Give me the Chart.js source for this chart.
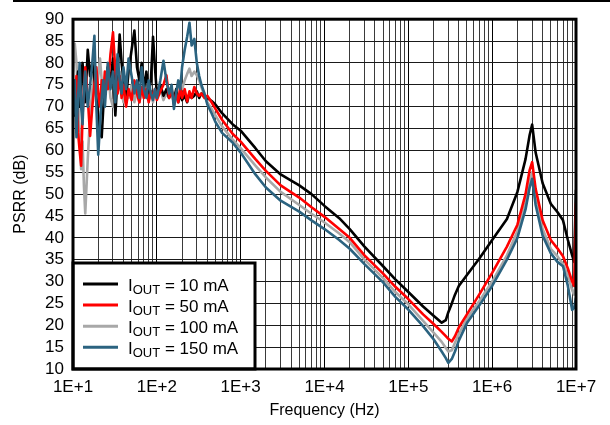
<!DOCTYPE html>
<html lang="en">
<head>
<meta charset="UTF-8">
<title>PSRR vs Frequency</title>
<script src="https://cdn.jsdelivr.net/npm/chart.js@4"></script>
<style>
  body { margin: 0; background: #fff; }
  #wrap { width: 610px; height: 425px; }
</style>
</head>
<body>
<div id="wrap"><canvas id="psrr" width="610" height="425"></canvas></div>
<script>
// frequency points (Hz), shared by all four curves
const freqHz = [
  10, 10.5, 11, 11.5, 12, 12.5, 13, 13.5, 14, 15,
  16, 17, 18, 19, 20, 21, 22, 23, 24, 26,
  28, 30, 32, 34, 36, 38, 40, 43, 46, 50,
  54, 58, 62, 66, 70, 75, 80, 85, 90, 95,
  100, 110, 120, 130, 140, 150, 160, 170, 180, 190,
  200, 215, 230, 245, 260, 280, 300, 320, 340, 370,
  400, 450, 500, 600, 800, 1e3, 1.5e3, 2e3, 3e3, 5e3,
  7e3, 1e4, 1.5e4, 2e4, 3e4, 5e4, 7e4, 1e5, 1.5e5, 2e5,
  2.5e5, 2.8e5, 3e5, 3.3e5, 3.6e5, 4e5, 5e5, 7e5, 1e6, 1.5e6,
  2e6, 2.5e6, 2.8e6, 3e6, 3.3e6, 4e6, 5e6, 6e6, 7e6, 8e6,
  9e6, 9.5e6, 1e7
];

// PSRR (dB) per load current
const psrr10mA = [
  72, 68, 74, 78, 70, 76, 80, 74, 71, 83,
  77, 80, 76, 72, 68, 64, 63, 70, 74, 79,
  76, 81, 68, 77, 86.5, 80, 76, 72, 78, 83,
  87.4, 79, 76, 80, 74, 78, 73, 76, 86, 79,
  73, 75, 72.5, 74, 72, 73.5, 71.5, 74, 71, 73,
  71.5, 72.5, 71, 73, 72, 72.5, 73.5, 72, 73, 72.5,
  72, 71.3, 70.5, 68.5, 66, 64.5, 60.5, 57.5, 54.5, 52,
  50, 47.3, 44.5, 42, 38, 33.5, 30.5, 27.6, 24.3, 22.2,
  20.6, 21.2, 23, 25, 27, 29, 31.5, 35.2, 39.5, 44.3,
  50.5, 58, 63.5, 65.9, 59.5, 52.5, 47.8, 45.9, 44, 39.5,
  36, 34.5, 51
];
const psrr50mA = [
  74, 70, 77, 64, 60, 56.5, 68, 74, 79, 72,
  63.3, 70, 75, 79, 73, 70, 76, 73, 78, 74,
  82, 87, 78, 73, 77, 72, 75, 70, 74, 71.5,
  76, 73, 71, 74.5, 72, 74, 71, 73.5, 72, 74,
  71.5, 73.5, 75, 77.2, 72, 74, 70.5, 73, 71, 74.5,
  72, 74, 71.2, 73.5, 72, 74.5, 73, 72.5, 73, 72,
  72.5, 71, 69.5, 67, 63.8, 62, 58, 55.3, 52, 49.2,
  47, 44.8, 42, 40, 36, 31.8, 28.8, 26, 22.5, 20.3,
  18.5, 17.5, 16.9, 16.3, 17.5, 19.5, 22.5, 27, 32, 38,
  43, 50, 55.5, 57.3, 51.2, 44, 39.5, 37.6, 35.8, 33,
  30, 29, 48
];
const psrr100mA = [
  78, 84.4, 80, 72, 64, 55.7, 62, 52, 45.6, 58,
  68, 74, 78, 73, 77, 81, 76, 72, 75, 79,
  72, 70, 76, 73, 78, 74, 71, 76, 72, 75,
  71, 73.5, 71, 74, 72, 75, 71.5, 73, 71, 74,
  72.5, 74, 71.5, 73, 72, 74, 72, 73.5, 75, 75.7,
  74, 76, 77.5, 78.7, 77, 78, 77.2, 76, 74.5, 72.5,
  71, 69.5, 68, 65.5, 62.5, 60.5, 56.5, 53.8, 50.5, 47.5,
  45.5, 43.5, 41, 39, 35, 30.8, 27.6, 24.8, 21, 18.3,
  16.2, 14.8, 14, 14.3, 16, 18, 21.5, 25.5, 30, 36,
  41.5, 48, 53, 55, 49, 42, 37.5, 35.8, 34, 31.5,
  28, 27, 30
];
const psrr150mA = [
  68, 76, 63, 72, 80, 70, 66, 74, 78, 70,
  75, 80, 86.2, 70, 59, 66, 72, 76, 70, 80,
  74, 78, 71, 82, 76, 73, 79, 74, 81, 77,
  73, 76, 72, 79, 74, 72, 76, 73, 71.5, 74,
  72, 76, 80.5, 76, 73, 75, 69.5, 73, 76, 74,
  79, 83, 86, 89.2, 84, 85.5, 80, 77, 75, 73,
  70.5, 68.5, 66.5, 64, 61.8, 59.5, 54.5, 51.5, 48.5, 46,
  44, 42, 39.5, 37.5, 34, 29.8, 26.5, 23.6, 19.8, 16.8,
  14, 12.5, 11.4, 12.3, 14, 16.5, 20.5, 24.5, 29, 35,
  40, 46.5, 51.5, 53.5, 47.5, 40.5, 36.5, 34.5, 33.5, 29,
  23.5, 24, 26.3
];

const loadCurrents = ['10 mA', '50 mA', '100 mA', '150 mA'];
const lineColors = ['#000000', '#ff0000', '#a8a8a8', '#2b6380'];
const decadeTicks = [1e1, 1e2, 1e3, 1e4, 1e5, 1e6, 1e7];
const decadeLabels = ['1E+1', '1E+2', '1E+3', '1E+4', '1E+5', '1E+6', '1E+7'];

// vertical grid: every 1..9 x decade
const gridValues = [];
decadeTicks.forEach((d, i) => {
  const last = i === decadeTicks.length - 1 ? 1 : 9;
  for (let m = 1; m <= last; m++) gridValues.push(m * d);
});

const series = [psrr10mA, psrr50mA, psrr100mA, psrr150mA];
const drawOrder = [2, 1, 3, 0]; // blue on top, gray underneath

Chart.defaults.font.family = "'Liberation Sans', Arial, sans-serif";
Chart.defaults.font.size = 17;
Chart.defaults.color = '#000';

const frameAndLegend = {
  id: 'frameAndLegend',
  afterDatasetsDraw(chart) {
    const { ctx, chartArea: a } = chart;
    ctx.save();
    // legend box in lower-left corner
    const bx = a.left, by = a.bottom - 106, bw = 182, bh = 106;
    ctx.fillStyle = '#fff';
    ctx.fillRect(bx, by, bw, bh);
    ctx.lineWidth = 3;
    ctx.strokeStyle = '#000';
    ctx.strokeRect(bx, by, bw, bh);
    chart.data.datasets.forEach((ds, i) => {
      const y = by + 21 + i * 21.1;
      ctx.strokeStyle = ds.borderColor;
      ctx.lineWidth = 3;
      ctx.beginPath();
      ctx.moveTo(bx + 10, y);
      ctx.lineTo(bx + 45, y);
      ctx.stroke();
      ctx.fillStyle = '#000';
      ctx.textBaseline = 'alphabetic';
      let tx = bx + 55;
      ctx.font = "17px 'Liberation Sans', Arial, sans-serif";
      ctx.fillText('I', tx, y + 6.5);
      tx += ctx.measureText('I').width;
      ctx.font = "13px 'Liberation Sans', Arial, sans-serif";
      ctx.fillText('OUT', tx, y + 10);
      tx += ctx.measureText('OUT').width;
      ctx.font = "17px 'Liberation Sans', Arial, sans-serif";
      ctx.fillText(' = ' + loadCurrents[i], tx, y + 6.5);
    });
    // plot frame
    ctx.lineWidth = 3;
    ctx.strokeStyle = '#000';
    ctx.strokeRect(a.left, a.top, a.right - a.left, a.bottom - a.top);
    // rule along the top of the figure
    ctx.fillStyle = '#000';
    ctx.fillRect(13, 0, 597, 2);
    ctx.restore();
  }
};

new Chart(document.getElementById('psrr'), {
  type: 'line',
  data: {
    datasets: series.map((vals, i) => ({
      label: 'IOUT = ' + loadCurrents[i],
      data: freqHz.map((f, k) => ({ x: f, y: vals[k] })),
      borderColor: lineColors[i],
      borderWidth: 2.6,
      pointRadius: 0,
      tension: 0,
      borderJoinStyle: 'round',
      order: drawOrder[i]
    }))
  },
  options: {
    responsive: false,
    animation: false,
    devicePixelRatio: 1,
    layout: { padding: { left: 0, top: 14, right: 34, bottom: 0 } },
    plugins: { legend: { display: false }, tooltip: { enabled: false } },
    scales: {
      x: {
        type: 'logarithmic',
        min: 10,
        max: 1e7,
        afterBuildTicks: s => { s.ticks = gridValues.map(v => ({ value: v })); },
        afterFit: s => { s.height = 56; },
        ticks: {
          autoSkip: false,
          maxRotation: 0,
          padding: 8,
          callback: v => {
            const i = decadeTicks.indexOf(v);
            return i >= 0 ? decadeLabels[i] : '';
          }
        },
        grid: {
          drawTicks: false,
          color: ctx => decadeTicks.includes(ctx.tick && ctx.tick.value) ? '#000' : '#3a3a3a',
          lineWidth: 1
        },
        border: { display: false },
        title: { display: true, text: 'Frequency (Hz)', font: { size: 16 }, padding: { top: 0, bottom: 5 } }
      },
      y: {
        min: 10,
        max: 90,
        afterFit: s => { s.width = 73; },
        ticks: { stepSize: 5, padding: 9, autoSkip: false },
        grid: { drawTicks: false, color: '#1a1a1a', lineWidth: 1 },
        border: { display: false },
        title: { display: true, text: 'PSRR (dB)', font: { size: 16 }, padding: { top: 11, bottom: 0 } }
      }
    }
  },
  plugins: [frameAndLegend]
});
</script>
</body>
</html>
